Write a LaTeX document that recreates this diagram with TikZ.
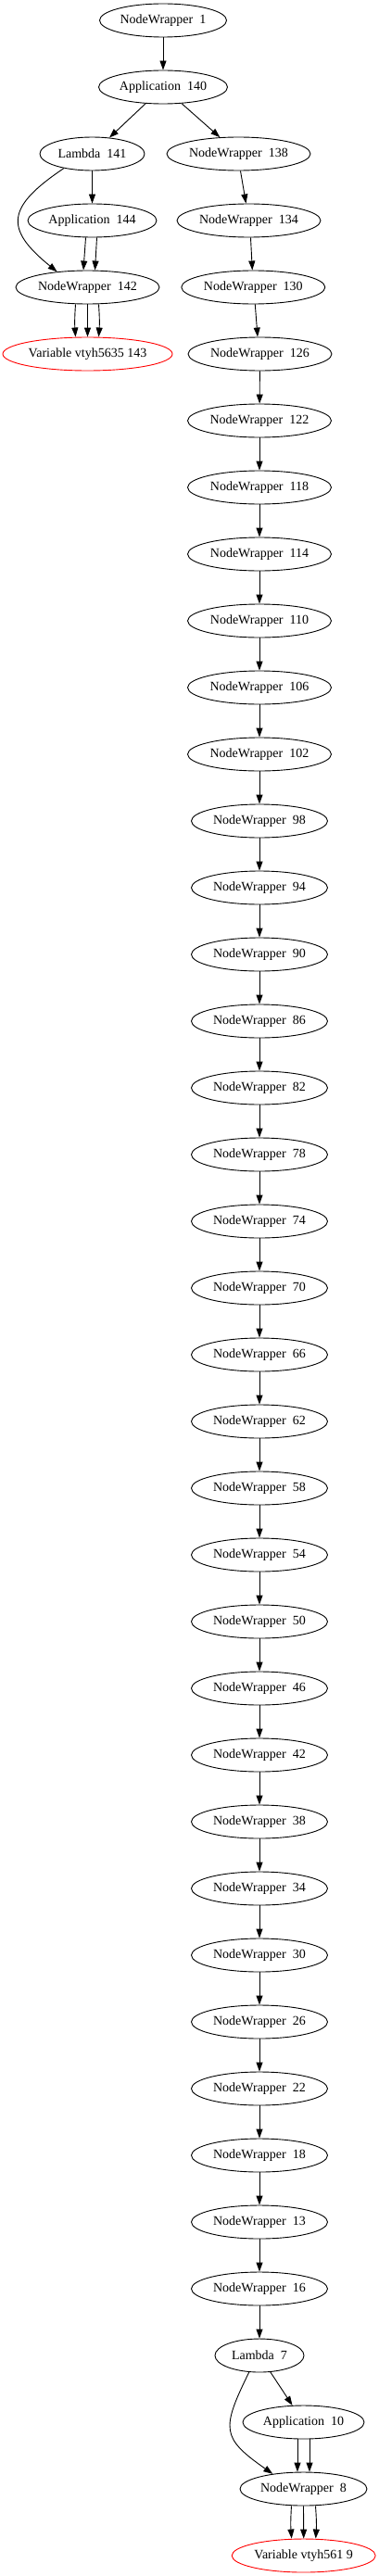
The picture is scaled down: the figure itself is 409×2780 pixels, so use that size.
\documentclass[tikz,border=0pt]{standalone}
\usepackage{fontspec}
\setmainfont{Liberation Serif}
\usetikzlibrary{shapes.geometric, arrows.meta}

\begin{document}
\begin{tikzpicture}[x=1pt, y=-1pt, line width=0.9pt,
	font=\fontsize{14pt}{16pt}\selectfont,
	>={Triangle[length=10pt, width=7pt]},
	blob/.style={draw, ellipse, inner sep=0pt, minimum height=36pt, minimum width=#1},
	blob/.default=147pt,
	varblob/.style={blob=#1, draw=red}]
	\useasboundingbox (0,0) rectangle (409,2780);

	% top part
	\node [blob=137pt] (nw1) at (176,22) {NodeWrapper~~1};
	\node [blob=139pt] (app140) at (176,94) {Application~~140};
	\node [blob=113pt] (lam141) at (99.5,166) {Lambda~~141};
	\node [blob=155pt] (nw138) at (257.5,166) {NodeWrapper~~138};
	\node [blob=139pt] (app144) at (99.5,238) {Application~~144};
	\node [blob=155pt] (nw134) at (268.5,238) {NodeWrapper~~134};
	\node [blob=155pt] (nw142) at (94.5,310) {NodeWrapper~~142};
	\node [blob=155pt] (nw130) at (273.3,310) {NodeWrapper~~130};
	\node [varblob=183pt] (var143) at (94.5,382) {Variable vtyh5635 143};
	\node [blob=155pt] (nw126) at (280.5,382) {NodeWrapper~~126};

	% long chain
	\node [blob=155pt] (nw122) at (280,454) {NodeWrapper~~122};
	\node [blob=155pt] (nw118) at (280,526) {NodeWrapper~~118};
	\node [blob=155pt] (nw114) at (280,598) {NodeWrapper~~114};
	\node [blob=155pt] (nw110) at (280,670) {NodeWrapper~~110};
	\node [blob=155pt] (nw106) at (280,742) {NodeWrapper~~106};
	\node [blob=155pt] (nw102) at (280,814) {NodeWrapper~~102};
	\node [blob] (nw98) at (280,886) {NodeWrapper~~98};
	\node [blob] (nw94) at (280,958) {NodeWrapper~~94};
	\node [blob] (nw90) at (280,1030) {NodeWrapper~~90};
	\node [blob] (nw86) at (280,1102) {NodeWrapper~~86};
	\node [blob] (nw82) at (280,1174) {NodeWrapper~~82};
	\node [blob] (nw78) at (280,1246) {NodeWrapper~~78};
	\node [blob] (nw74) at (280,1318) {NodeWrapper~~74};
	\node [blob] (nw70) at (280,1390) {NodeWrapper~~70};
	\node [blob] (nw66) at (280,1462) {NodeWrapper~~66};
	\node [blob] (nw62) at (280,1534) {NodeWrapper~~62};
	\node [blob] (nw58) at (280,1606) {NodeWrapper~~58};
	\node [blob] (nw54) at (280,1678) {NodeWrapper~~54};
	\node [blob] (nw50) at (280,1750) {NodeWrapper~~50};
	\node [blob] (nw46) at (280,1822) {NodeWrapper~~46};
	\node [blob] (nw42) at (280,1894) {NodeWrapper~~42};
	\node [blob] (nw38) at (280,1966) {NodeWrapper~~38};
	\node [blob] (nw34) at (280,2038) {NodeWrapper~~34};
	\node [blob] (nw30) at (280,2110) {NodeWrapper~~30};
	\node [blob] (nw26) at (280,2182) {NodeWrapper~~26};
	\node [blob] (nw22) at (280,2254) {NodeWrapper~~22};
	\node [blob] (nw18) at (280,2326) {NodeWrapper~~18};
	\node [blob] (nw13) at (280,2398) {NodeWrapper~~13};
	\node [blob] (nw16) at (280,2470) {NodeWrapper~~16};

	% bottom part
	\node [blob=96pt] (lam7) at (280,2542) {Lambda~~7};
	\node [blob=131pt] (app10) at (327.5,2614) {Application~~10};
	\node [blob=137pt] (nw8) at (327.5,2686) {NodeWrapper~~8};
	\node [varblob=155pt] (var9) at (327.7,2758) {Variable vtyh561 9};

	\draw [->] (nw1) -- (app140);
	\draw [->] (app140) -- (lam141);
	\draw [->] (app140) -- (nw138);
	\draw [->] (lam141) -- (app144);
	\draw [->] (lam141.207) to[out=214, in=141, looseness=1.7] (nw142.153);
	\draw [->] ([xshift=-7pt]app144.south) -- ([xshift=-4.5pt]nw142.north);
	\draw [->] ([xshift=5pt]app144.south) -- ([xshift=8pt]nw142.north);
	\draw [->] ([xshift=-13pt]nw142.south) to[bend right=4] ([xshift=-13pt]var143.north);
	\draw [->] (nw142.south) -- (var143.north);
	\draw [->] ([xshift=12pt]nw142.south) to[bend left=4] ([xshift=12pt]var143.north);
	\draw [->] ([xshift=2pt]nw138.south) -- ([xshift=-3pt]nw134.north);
	\draw [->] ([xshift=2pt]nw134.south) -- ([xshift=-1pt]nw130.north);
	\draw [->] ([xshift=2pt]nw130.south) -- ([xshift=-2.5pt]nw126.north);
	\draw [->] (nw126) -- (nw122);
	\draw [->] (nw122) -- (nw118);
	\draw [->] (nw118) -- (nw114);
	\draw [->] (nw114) -- (nw110);
	\draw [->] (nw110) -- (nw106);
	\draw [->] (nw106) -- (nw102);
	\draw [->] (nw102) -- (nw98);
	\draw [->] (nw98) -- (nw94);
	\draw [->] (nw94) -- (nw90);
	\draw [->] (nw90) -- (nw86);
	\draw [->] (nw86) -- (nw82);
	\draw [->] (nw82) -- (nw78);
	\draw [->] (nw78) -- (nw74);
	\draw [->] (nw74) -- (nw70);
	\draw [->] (nw70) -- (nw66);
	\draw [->] (nw66) -- (nw62);
	\draw [->] (nw62) -- (nw58);
	\draw [->] (nw58) -- (nw54);
	\draw [->] (nw54) -- (nw50);
	\draw [->] (nw50) -- (nw46);
	\draw [->] (nw46) -- (nw42);
	\draw [->] (nw42) -- (nw38);
	\draw [->] (nw38) -- (nw34);
	\draw [->] (nw34) -- (nw30);
	\draw [->] (nw30) -- (nw26);
	\draw [->] (nw26) -- (nw22);
	\draw [->] (nw22) -- (nw18);
	\draw [->] (nw18) -- (nw13);
	\draw [->] (nw13) -- (nw16);
	\draw [->] (nw16) -- (lam7);
	\draw [->] (lam7) -- (app10);
	\draw [->] (lam7.238) to[out=244, in=145, looseness=1.55] (nw8.154);
	\draw [->] ([xshift=-6.5pt]app10.south) -- ([xshift=-6.5pt]nw8.north);
	\draw [->] ([xshift=6.5pt]app10.south) -- ([xshift=6.5pt]nw8.north);
	\draw [->] ([xshift=-13pt]nw8.south) to[bend right=4] ([xshift=-13pt]var9.north);
	\draw [->] (nw8.south) -- (var9.north);
	\draw [->] ([xshift=13pt]nw8.south) to[bend left=4] ([xshift=13pt]var9.north);
\end{tikzpicture}
\end{document}
